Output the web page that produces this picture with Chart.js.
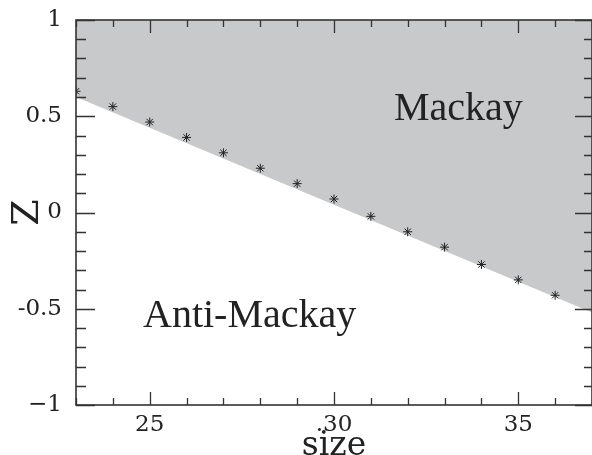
<!DOCTYPE html>
<html>
<head>
<meta charset="utf-8">
<script src="https://cdn.jsdelivr.net/npm/chart.js@4/dist/chart.umd.min.js"></script>
<style>
html,body{margin:0;padding:0;background:#fff;}
#wrap{width:592px;height:455px;}
</style>
</head>
<body>
<div id="wrap"><canvas id="c" width="592" height="455"></canvas></div>
<script>
// Data
const sizes = [23, 24, 25, 26, 27, 28, 29, 30, 31, 32, 33, 34, 35, 36];
const zValues = [0.63, 0.55, 0.47, 0.39, 0.31, 0.23, 0.15, 0.07, -0.02, -0.10, -0.18, -0.27, -0.35, -0.43];
const boundarySizes = [23, 37];
const boundaryZ = [0.60, -0.52];
const xTickValues = [25, 30, 35];
const xTickLabels = ['25', '.30', '35'];
const yTickValues = [1, 0.5, 0, -0.5, -1];
const yTickLabels = ['1', '0.5', '0', '-0.5', '\u22121'];
const regionLabels = ['Mackay', 'Anti-Mackay'];

const serif = "'DejaVu Serif', serif";
const ink = '#222';

function labelFor(values, labels, v) {
  for (let i = 0; i < values.length; i++) {
    if (Math.abs(values[i] - v) < 1e-6) return labels[i];
  }
  return '';
}

const frameTicks = {
  id: 'frameTicks',
  afterDatasetsDraw(chart) {
    const ctx = chart.ctx;
    const a = chart.chartArea;
    const xs = chart.scales.x, ys = chart.scales.y;
    ctx.save();
    ctx.strokeStyle = '#333';
    ctx.lineWidth = 1.3;
    ctx.beginPath();
    xs.ticks.forEach(t => {
      const px = Math.round(xs.getPixelForValue(t.value)) + 0.5;
      const major = labelFor(xTickValues, xTickLabels, t.value) !== '';
      const len = major ? 13 : 7;
      ctx.moveTo(px, a.bottom); ctx.lineTo(px, a.bottom - len);
      ctx.moveTo(px, a.top); ctx.lineTo(px, a.top + len);
    });
    ys.ticks.forEach(t => {
      const py = Math.round(ys.getPixelForValue(t.value)) + 0.5;
      const major = labelFor(yTickValues, yTickLabels, t.value) !== '';
      ctx.moveTo(a.left, py); ctx.lineTo(a.left + (major ? 19 : 10), py);
      ctx.moveTo(a.right, py); ctx.lineTo(a.right - (major ? 17 : 8), py);
    });
    ctx.stroke();
    ctx.lineWidth = 1.6;
    ctx.strokeRect(a.left, a.top, a.right - a.left, a.bottom - a.top);
    // region labels
    ctx.fillStyle = ink;
    ctx.font = "40px 'Liberation Serif', serif";
    ctx.textBaseline = 'alphabetic';
    ctx.textAlign = 'left';
    ctx.fillText(regionLabels[0], a.left + 318, a.top + 100);
    ctx.fillText(regionLabels[1], a.left + 67, a.top + 307);
    ctx.restore();
  }
};

new Chart(document.getElementById('c'), {
  type: 'scatter',
  data: {
    datasets: [
      {
        type: 'line',
        data: boundarySizes.map((x, i) => ({x: x, y: boundaryZ[i]})),
        fill: 'end',
        backgroundColor: '#c8c9cb',
        borderWidth: 0,
        borderColor: 'rgba(0,0,0,0)',
        pointRadius: 0,
        clip: 0,
        order: 2
      },
      {
        data: sizes.map((x, i) => ({x: x, y: zValues[i]})),
        pointStyle: 'star',
        pointRadius: 4.5,
        borderColor: ink,
        backgroundColor: ink,
        borderWidth: 1,
        clip: 0,
        order: 1
      }
    ]
  },
  options: {
    responsive: false,
    animation: false,
    events: [],
    layout: {autoPadding: false, padding: {top: 20, right: 0, left: 0, bottom: 0}},
    plugins: {legend: {display: false}, tooltip: {enabled: false}},
    scales: {
      x: {
        type: 'linear',
        min: 23, max: 37,
        grid: {display: false, drawTicks: false},
        border: {display: false},
        afterFit: s => { s.height = 50; s.paddingLeft = 0; s.paddingRight = 0; },
        ticks: {
          stepSize: 1,
          autoSkip: false,
          maxRotation: 0,
          padding: 6,
          color: ink,
          font: {family: serif, size: 23},
          callback: v => labelFor(xTickValues, xTickLabels, v)
        },
        title: {
          display: true,
          text: 'size',
          color: ink,
          font: {family: serif, size: 33, lineHeight: 0.8},
          padding: {top: 0, bottom: -5}
        }
      },
      y: {
        type: 'linear',
        min: -1, max: 1,
        grid: {display: false, drawTicks: false},
        border: {display: false},
        afterFit: s => { s.width = 76; s.paddingTop = 0; s.paddingBottom = 0; },
        ticks: {
          stepSize: 0.1,
          autoSkip: false,
          padding: 14,
          color: ink,
          font: {family: serif, size: 23},
          callback: v => labelFor(yTickValues, yTickLabels, v)
        },
        title: {
          display: true,
          text: 'Z',
          color: ink,
          font: {family: serif, size: 38, lineHeight: 1.2},
          padding: {top: 5, bottom: 0}
        }
      }
    }
  },
  plugins: [frameTicks]
});
</script>
</body>
</html>
